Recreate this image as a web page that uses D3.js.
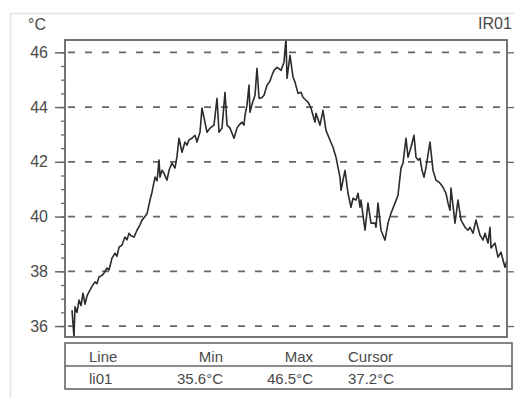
<!DOCTYPE html>
<html><head><meta charset="utf-8">
<script src="https://cdn.jsdelivr.net/npm/d3@7"></script>
<style>
html,body{margin:0;padding:0;background:#fff;}
svg{display:block;font-family:"Liberation Sans",Arial,sans-serif;}
</style></head>
<body>
<svg id="chart" width="515" height="398"></svg>
<script>
// Time (s) of each sample and temperature (°C)
const timeSec = [7,9,10,12,14,16,18,20,22,24,27,30,32,34,37,39,42,44,47,50,52,54,57,60,62,64,66,69,72,75,77,80,82,85,87,90,92,94,95,97,99,102,104,107,110,112,114,117,120,122,124,127,130,132,134,135,137,142,145,149,152,154,157,160,162,165,169,172,174,177,179,180,182,184,185,187,190,192,194,195,197,199,202,205,207,209,212,214,216,219,221,222,225,228,230,233,236,238,241,243,246,248,250,251,255,258,261,265,268,271,273,275,276,280,283,286,288,291,293,295,296,300,303,306,308,310,311,313,316,320,323,326,330,333,335,336,338,341,343,346,349,351,353,355,357,359,361,365,368,371,375,378,381,383,385,386,390,393,396,400,403,405,408,411,415,418,420,423,425,426,430,433,436,438,440,442];
const tempC = [36.58,35.6,36.70,36.50,36.95,36.75,37.20,36.80,37.10,37.25,37.45,37.61,37.55,37.79,37.85,37.93,38.12,38.05,38.48,38.66,38.55,38.88,38.96,39.25,39.15,39.39,39.30,39.25,39.50,39.70,39.87,40.00,40.10,40.60,40.89,41.44,41.30,42.06,41.44,41.69,41.58,41.33,41.69,41.95,41.77,42.20,42.86,42.35,42.72,42.61,42.80,42.86,42.97,42.72,42.97,43.08,43.96,43.08,43.23,43.34,44.32,43.08,43.23,44.54,43.34,43.23,42.86,43.23,43.34,43.45,43.34,43.70,44.07,44.80,43.81,44.10,44.43,45.42,44.32,44.32,44.35,44.43,44.80,44.95,45.16,45.34,45.45,45.40,45.34,45.64,46.5,45.05,45.89,45.10,44.91,44.50,44.54,44.36,44.25,44.18,43.96,43.70,43.45,43.77,43.34,43.88,43.15,42.79,42.53,42.17,41.80,41.44,40.96,41.69,40.85,40.34,40.67,40.60,40.85,40.34,40.60,39.50,40.49,39.76,39.76,39.76,39.61,40.49,39.50,39.14,39.76,40.12,40.49,40.78,41.44,41.77,41.95,42.86,42.17,42.53,42.97,42.17,42.06,42.13,41.69,41.44,41.80,42.72,41.69,41.33,41.22,41.07,40.85,40.49,40.23,41.04,39.76,40.60,39.87,39.61,39.50,39.61,39.39,39.87,39.32,39.14,39.39,39.03,39.61,38.85,39.03,38.52,38.70,38.41,38.15,38.41,37.93,37.61,37.20,37.06];
const yTicks = [36,38,40,42,44,46];
const yMinorTicks = [36,36.5,37,37.5,38,38.5,39,39.5,40,40.5,41,41.5,42,42.5,43,43.5,44,44.5,45,45.5,46];
const unitLabel = "°C";
const channelLabel = "IR01";
const tableHeader = ["Line","Min","Max","Cursor"];
const tableRow = ["li01","35.6°C","46.5°C","37.2°C"];

const svg = d3.select("#chart");
const L = 65, R = 507, T = 40, B = 337;
const textCol = "#4a4a4a", frameCol = "#666";

// outer faint frame
svg.append("rect").attr("x",10.5).attr("y",13.5).attr("width",520).attr("height",400)
  .attr("fill","none").attr("stroke","#e3e3e3").attr("stroke-width",1.5);

const x = d3.scaleLinear().domain([0,442]).range([L,R]);
const y = d3.scaleLinear().domain([35.6,46.45]).range([B,T]);

// gridlines
svg.append("g").selectAll("line").data(yTicks).join("line")
  .attr("x1",L).attr("x2",R).attr("y1",d=>y(d)).attr("y2",d=>y(d))
  .attr("stroke","#666").attr("stroke-width",1.8).attr("stroke-dasharray","7,10")
  .attr("stroke-dashoffset",-3);

// left axis major
const yAxis = d3.axisLeft(y).tickValues(yTicks).tickSize(10).tickPadding(7).tickFormat(d3.format("d"));
const gy = svg.append("g").attr("transform",`translate(${L},0)`).call(yAxis);
gy.select(".domain").remove();
gy.selectAll(".tick line").attr("stroke",frameCol).attr("stroke-width",1.5);
gy.selectAll(".tick text").attr("fill",textCol).attr("font-size",16).attr("font-family","Liberation Sans, Arial, sans-serif");
// minor
const yMinor = d3.axisLeft(y).tickValues(yMinorTicks).tickSize(4).tickFormat("");
const gm = svg.append("g").attr("transform",`translate(${L},0)`).call(yMinor);
gm.select(".domain").remove();
gm.selectAll(".tick line").attr("stroke",frameCol).attr("stroke-width",1.3);
// right axis
const yR = d3.axisRight(y).tickValues(yTicks).tickSize(7).tickFormat("");
const gr = svg.append("g").attr("transform",`translate(${R},0)`).call(yR);
gr.select(".domain").remove();
gr.selectAll(".tick line").attr("stroke",frameCol).attr("stroke-width",1.3);

// clip + line
svg.append("clipPath").attr("id","pc").append("rect").attr("x",L).attr("y",T).attr("width",R-L).attr("height",B-T);
const data = timeSec.map((t,i)=>({t, v: tempC[i]}));
svg.append("path").datum(data).attr("clip-path","url(#pc)")
  .attr("fill","none").attr("stroke","#2b2b2b").attr("stroke-width",1.6).attr("stroke-linejoin","round")
  .attr("d", d3.line().x(d=>x(d.t)).y(d=>y(d.v)));

// plot frame
svg.append("rect").attr("x",L).attr("y",T).attr("width",R-L).attr("height",B-T)
  .attr("fill","none").attr("stroke",frameCol).attr("stroke-width",1.8);

// labels
svg.append("text").attr("x",28).attr("y",30).attr("fill",textCol).attr("font-size",16).text(unitLabel);
svg.append("text").attr("x",478).attr("y",29).attr("fill",textCol).attr("font-size",16).text(channelLabel);

// table
const tT = 343, tM = 366, tB = 389, tL = 65, tR = 512;
svg.append("rect").attr("x",tL).attr("y",tT).attr("width",tR-tL).attr("height",tB-tT)
  .attr("fill","none").attr("stroke",frameCol).attr("stroke-width",1.6);
svg.append("line").attr("x1",tL).attr("x2",tR).attr("y1",tM).attr("y2",tM)
  .attr("stroke",frameCol).attr("stroke-width",1.6);
const colX = [89,223,313,348];
const colAnchor = ["start","end","end","start"];
[[tableHeader,362],[tableRow,384]].forEach(([row,yy])=>{
  svg.append("g").selectAll("text").data(row).join("text")
    .attr("x",(d,i)=>colX[i]).attr("y",yy).attr("text-anchor",(d,i)=>colAnchor[i])
    .attr("fill",textCol).attr("font-size",15).text(d=>d);
});
</script>
</body></html>
